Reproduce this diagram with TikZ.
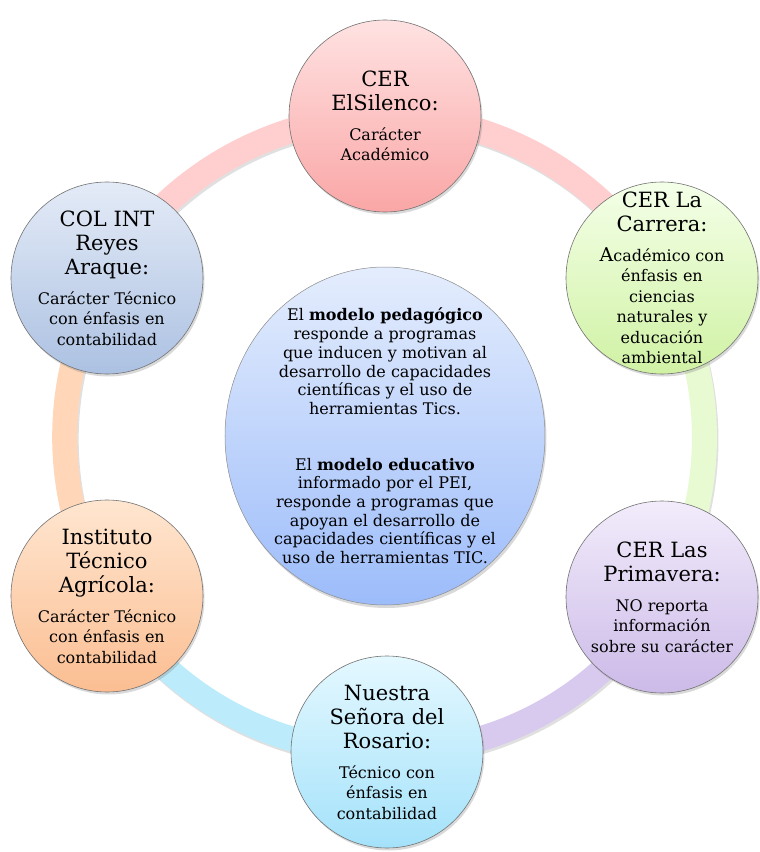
\documentclass[tikz,border=0pt]{standalone}
\usepackage{fontspec}
\setmainfont{DejaVu Serif}
\usepackage{tikz}
\usetikzlibrary{shapes.geometric, shadows, backgrounds}
\definecolor{pinkT}{RGB}{255,226,226}
\definecolor{pinkB}{RGB}{250,166,166}
\definecolor{pinkR}{RGB}{255,206,206}
\definecolor{greenT}{RGB}{244,255,232}
\definecolor{greenB}{RGB}{208,242,164}
\definecolor{greenR}{RGB}{232,250,210}
\definecolor{lilaT}{RGB}{242,236,251}
\definecolor{lilaB}{RGB}{204,186,232}
\definecolor{lilaR}{RGB}{216,202,238}
\definecolor{cyanT}{RGB}{228,248,255}
\definecolor{cyanB}{RGB}{164,226,250}
\definecolor{cyanR}{RGB}{188,236,252}
\definecolor{orangeT}{RGB}{255,230,208}
\definecolor{orangeB}{RGB}{251,190,146}
\definecolor{orangeR}{RGB}{255,214,184}
\definecolor{steelT}{RGB}{228,235,247}
\definecolor{steelB}{RGB}{172,193,226}
\definecolor{coreT}{RGB}{228,237,253}
\definecolor{coreB}{RGB}{156,188,250}
\newcommand{\titfont}{\fontsize{21}{24}\selectfont}
\newcommand{\txtfont}{\fontsize{16}{20.5}\selectfont}

\begin{document}
\begin{tikzpicture}[x=1pt, y=1pt,
    school/.style={circle, minimum size=192pt, inner sep=-60pt, draw=black!55, line width=0.6pt, align=center,
      font=\txtfont, drop shadow={shadow xshift=1.5pt, shadow yshift=-2.5pt, opacity=0.3}},
    core/.style={ellipse, minimum width=320pt, minimum height=338pt, inner sep=-40pt, draw=black!45, line width=0.5pt,
      align=center, top color=coreT, bottom color=coreB, font=\fontsize{16}{18.7}\selectfont,
      drop shadow={shadow xshift=1.5pt, shadow yshift=-3pt, opacity=0.3}},
    ring/.style={line width=25pt, bend left=30, looseness=0.91},
    ringshadow/.style={ring, black, opacity=0.12, transform canvas={shift={(1.5pt,-2.5pt)}}},
  ]
  \useasboundingbox (-385,-417) rectangle (375,435);

  \node[school, top color=pinkT, bottom color=pinkB] (silenco) at (0,319)
    {\titfont CER\\[3.5pt]\titfont ElSilenco:\\[9.5pt]Carácter\\Académico};
  \node[school, top color=greenT, bottom color=greenB] (carrera) at (277,157)
    {\titfont CER La\\[3.5pt]\titfont Carrera:\\[9.5pt]{\fontsize{19}{20.5}\selectfont A}cadémico con\\énfasis en\\ciencias\\naturales y\\educación\\ambiental};
  \node[school, top color=lilaT, bottom color=lilaB] (primavera) at (277,-162)
    {\titfont CER Las\\[3.5pt]\titfont Primavera:\\[9.5pt]NO reporta\\información\\sobre su carácter};
  \node[school, top color=cyanT, bottom color=cyanB] (rosario) at (2,-317)
    {\titfont Nuestra\\[3.5pt]\titfont Señora del\\[3.5pt]\titfont Rosario:\\[9.5pt]Técnico con\\énfasis en\\contabilidad};
  \node[school, top color=orangeT, bottom color=orangeB] (agricola) at (-278,-161)
    {\titfont Instituto\\[3.5pt]\titfont Técnico\\[3.5pt]\titfont Agrícola:\\[9.5pt]Carácter Técnico\\con énfasis en\\contabilidad};
  \node[school, top color=steelT, bottom color=steelB] (reyes) at (-278,157)
    {\titfont COL INT\\[3.5pt]\titfont Reyes\\[3.5pt]\titfont Araque:\\[9.5pt]Carácter Técnico\\con énfasis en\\contabilidad};

  \node[core] (modelo) at (0,-1)
    {El \textbf{modelo pedagógico}\\responde a programas\\que inducen y motivan al\\desarrollo de capacidades\\científicas y el uso de\\herramientas Tics.\\[37pt]
     El \textbf{modelo educativo}\\informado por el PEI,\\responde a programas que\\apoyan el desarrollo de\\capacidades científicas y el\\uso de herramientas TIC.};

  % ring behind the circles
  \begin{scope}[on background layer]
    \draw[ringshadow] (reyes.center) to (silenco.center);
    \draw[ringshadow] (silenco.center) to (carrera.center);
    \draw[ringshadow] (carrera.center) to (primavera.center);
    \draw[ringshadow] (primavera.center) to (rosario.center);
    \draw[ringshadow] (rosario.center) to (agricola.center);
    \draw[ringshadow] (agricola.center) to (reyes.center);
    \draw[ring, pinkR] (reyes.center) to (silenco.center);
    \draw[ring, pinkR] (silenco.center) to (carrera.center);
    \draw[ring, greenR] (carrera.center) to (primavera.center);
    \draw[ring, lilaR] (primavera.center) to (rosario.center);
    \draw[ring, cyanR] (rosario.center) to (agricola.center);
    \draw[ring, orangeR] (agricola.center) to (reyes.center);
  \end{scope}
\end{tikzpicture}
\end{document}
